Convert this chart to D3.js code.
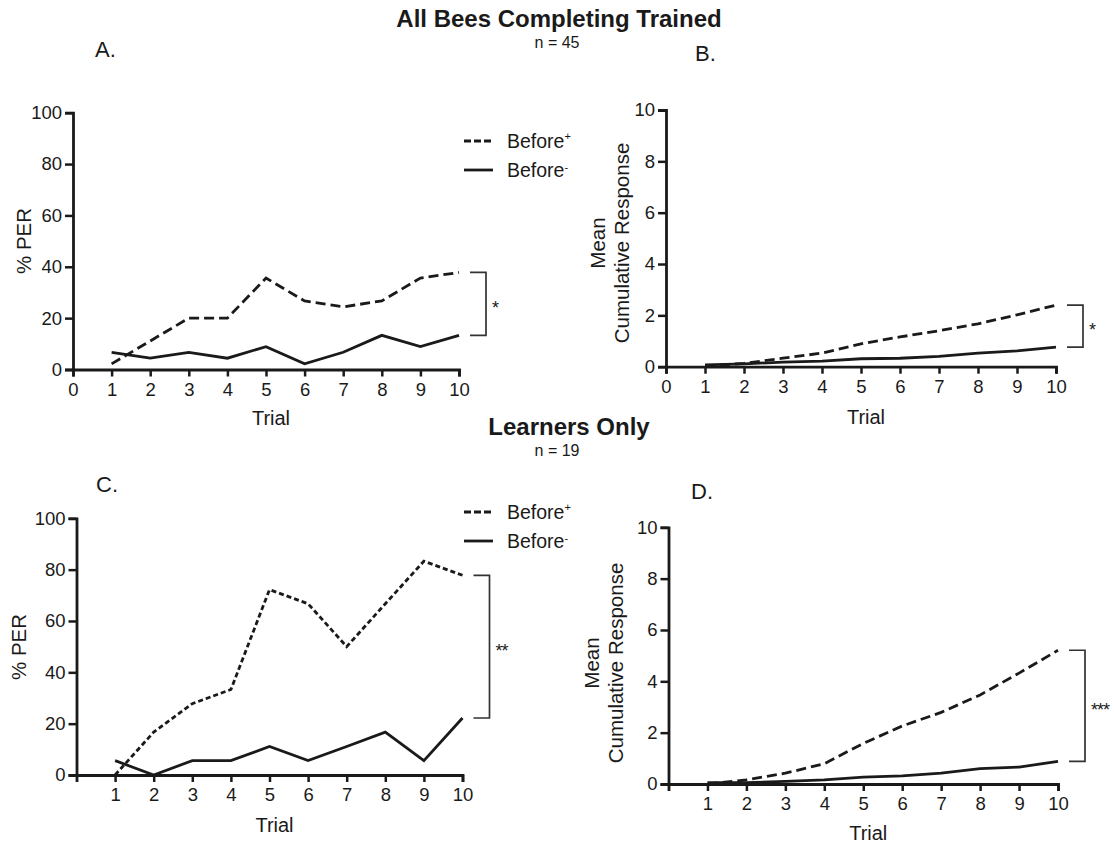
<!DOCTYPE html>
<html>
<head>
<meta charset="utf-8">
<script src="https://cdn.jsdelivr.net/npm/d3@7"></script>
<style>
  body { margin: 0; background: #fff; }
  svg { font-family: "Liberation Sans", Arial, sans-serif; }
</style>
</head>
<body>
<svg id="chart" width="1114" height="845"></svg>
<script>
// trials and tick labels
const trials = [1, 2, 3, 4, 5, 6, 7, 8, 9, 10];
const trialTicksTop = [0, 1, 2, 3, 4, 5, 6, 7, 8, 9, 10];
const trialTicksBottom = [1, 2, 3, 4, 5, 6, 7, 8, 9, 10];
const perTicks = [0, 20, 40, 60, 80, 100];
const cumTicks = [0, 2, 4, 6, 8, 10];

// All bees (n = 45)
const perAllPlus  = [2.2, 11.1, 20, 20, 35.6, 26.7, 24.4, 26.7, 35.6, 37.8];
const perAllMinus = [6.7, 4.4, 6.7, 4.4, 8.9, 2.2, 6.7, 13.3, 8.9, 13.3];
const cumAllPlus  = [0.02, 0.13, 0.33, 0.53, 0.89, 1.16, 1.40, 1.67, 2.02, 2.40];
const cumAllMinus = [0.07, 0.11, 0.18, 0.22, 0.31, 0.33, 0.40, 0.53, 0.62, 0.76];

// Learners only (n = 19)
const perLearnPlus  = [0, 16.7, 27.8, 33.3, 72.2, 66.7, 50, 66.7, 83.3, 77.8];
const perLearnMinus = [5.6, 0, 5.6, 5.6, 11.1, 5.6, 11.1, 16.7, 5.6, 22.2];
const cumLearnPlus  = [0.0, 0.16, 0.42, 0.79, 1.58, 2.26, 2.79, 3.47, 4.32, 5.21];
const cumLearnMinus = [0.05, 0.05, 0.10, 0.16, 0.27, 0.32, 0.42, 0.60, 0.66, 0.88];

const seriesNames = ["Before", "Before"];
const seriesSup = ["+", "-"];

const svg = d3.select("#chart");

// group headings
const headings = [
  {title: "All Bees Completing Trained", n: "n = 45", x: 559, y: 27},
  {title: "Learners Only", n: "n = 19", x: 569, y: 435}
];
headings.forEach(h => {
  svg.append("text").attr("x", h.x).attr("y", h.y)
    .attr("text-anchor", "middle").attr("font-size", 24).attr("font-weight", "bold")
    .attr("fill", "#1a1a1a").text(h.title);
  svg.append("text").attr("x", 557).attr("y", h.y + 21)
    .attr("text-anchor", "middle").attr("font-size", 16).attr("fill", "#1a1a1a").text(h.n);
});

const panels = [
  {id: "A.", lx: 95, ly: 57, x0: 73, x1: 459, yT: 112.7, yB: 369.5, ymax: 100, yTicks: perTicks,
   xTicks: trialTicksTop, plus: perAllPlus, minus: perAllMinus, dash: "10,5", sig: "*",
   ylab: ["% PER"], ylx: [24], yly: 241, legend: {x: 464, y: 141}, trialY: 425},
  {id: "B.", lx: 695, ly: 61, x0: 666, x1: 1056, yT: 110, yB: 366.7, ymax: 10, yTicks: cumTicks,
   xTicks: trialTicksTop, plus: cumAllPlus, minus: cumAllMinus, dash: "10,5", sig: "*",
   ylab: ["Mean", "Cumulative Response"], ylx: [598, 622], yly: 243, legend: null, trialY: 424},
  {id: "C.", lx: 96, ly: 492, x0: 76.5, x1: 462.5, yT: 518.3, yB: 775, ymax: 100, yTicks: perTicks,
   xTicks: trialTicksBottom, plus: perLearnPlus, minus: perLearnMinus, dash: "5,3", sig: "**",
   ylab: ["% PER"], ylx: [19], yly: 647, legend: {x: 464, y: 512}, trialY: 832},
  {id: "D.", lx: 691, ly: 499, x0: 668.5, x1: 1058, yT: 527.3, yB: 784, ymax: 10, yTicks: cumTicks,
   xTicks: trialTicksBottom, plus: cumLearnPlus, minus: cumLearnMinus, dash: "10,5", sig: "***",
   ylab: ["Mean", "Cumulative Response"], ylx: [592, 616], yly: 663, legend: null, trialY: 840}
];

panels.forEach(p => {
  const x = d3.scaleLinear().domain([0, 10]).range([p.x0, p.x1]);
  const y = d3.scaleLinear().domain([0, p.ymax]).range([p.yB, p.yT]);
  const g = svg.append("g");

  // panel letter
  g.append("text").attr("x", p.lx).attr("y", p.ly).attr("font-size", 22)
    .attr("fill", "#1a1a1a").text(p.id);

  // axes
  const yAxis = d3.axisLeft(y).tickValues(p.yTicks).tickSizeOuter(0).tickSize(8).tickPadding(3);
  const xAxis = d3.axisBottom(x).tickValues(p.xTicks).tickSizeOuter(0).tickSize(7).tickPadding(6);

  const ya = g.append("g").attr("transform", `translate(${p.x0},0)`).call(yAxis);
  const xa = g.append("g").attr("transform", `translate(0,${p.yB})`).call(xAxis);
  [ya, xa].forEach(a => {
    a.select(".domain").attr("stroke", "#1a1a1a").attr("stroke-width", 2.8);
    a.selectAll(".tick line").attr("stroke", "#1a1a1a").attr("stroke-width", 2.5);
    a.selectAll(".tick text").attr("font-size", 18.5).attr("fill", "#1a1a1a")
      .attr("font-family", "Liberation Sans, Arial, sans-serif");
  });

  // axis titles
  g.append("text").attr("x", (p.x0 + p.x1) / 2 + 5).attr("y", p.trialY)
    .attr("text-anchor", "middle").attr("font-size", 20).attr("fill", "#1a1a1a").text("Trial");
  p.ylab.forEach((t, i) => {
    g.append("text").attr("transform", `translate(${p.ylx[i]},${p.yly}) rotate(-90)`)
      .attr("text-anchor", "middle").attr("dy", "0.35em").attr("font-size", 20.5)
      .attr("fill", "#1a1a1a").text(t);
  });

  // lines
  const line = d3.line().x((d, i) => x(trials[i])).y(d => y(d));
  g.append("path").datum(p.plus).attr("d", line).attr("fill", "none")
    .attr("stroke", "#1a1a1a").attr("stroke-width", 2.8).attr("stroke-dasharray", p.dash);
  g.append("path").datum(p.minus).attr("d", line).attr("fill", "none")
    .attr("stroke", "#1a1a1a").attr("stroke-width", 2.8);

  // significance bracket between last points
  const bTop = y(p.plus[p.plus.length - 1]);
  const bBot = y(p.minus[p.minus.length - 1]);
  const bx0 = p.x1 + 11, bx1 = p.x1 + 27;
  g.append("path")
    .attr("d", `M${bx0},${bTop}H${bx1}V${bBot}H${bx0}`)
    .attr("fill", "none").attr("stroke", "#333").attr("stroke-width", 1.7);
  g.append("text").attr("x", bx1 + 6).attr("y", (bTop + bBot) / 2 + 10)
    .attr("font-size", 18).attr("letter-spacing", -1).attr("fill", "#1a1a1a").text(p.sig);

  // legend
  if (p.legend) {
    ["10,5", null].forEach((dash, i) => {
      const ly = p.legend.y + i * 29;
      g.append("line").attr("x1", p.legend.x).attr("x2", p.legend.x + 29)
        .attr("y1", ly).attr("y2", ly).attr("stroke", "#1a1a1a").attr("stroke-width", 2.8)
        .attr("stroke-dasharray", dash ? "7,3" : null);
      const t = g.append("text").attr("x", p.legend.x + 43).attr("y", ly + 7)
        .attr("font-size", 19.5).attr("fill", "#1a1a1a").text(seriesNames[i]);
      t.append("tspan").attr("font-size", 11).attr("dy", i === 0 ? -8 : -6).text(seriesSup[i]);
    });
  }
});
</script>
</body>
</html>
